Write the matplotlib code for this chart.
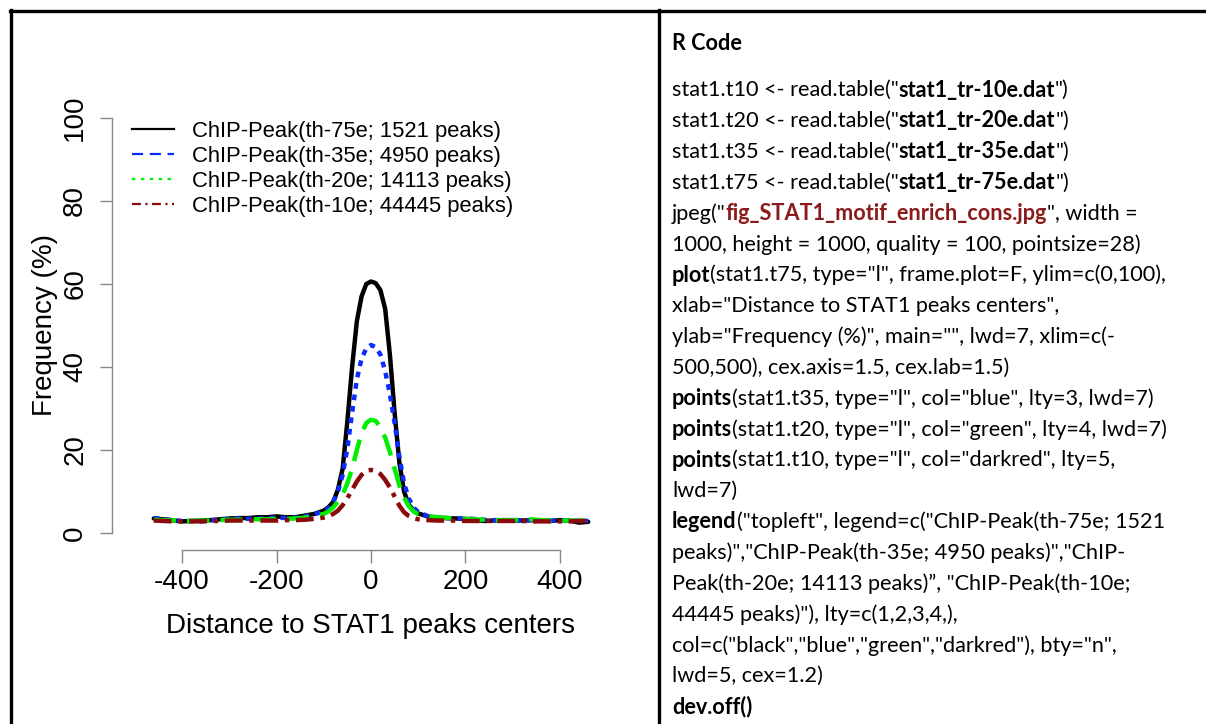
import numpy as np
import matplotlib
matplotlib.use('Agg')
import matplotlib.pyplot as plt
from matplotlib.lines import Line2D

plt.rcParams['font.family'] = ['Liberation Sans', 'DejaVu Sans']
plt.rcParams['axes.unicode_minus'] = False

# distance to peak centre (bp)
x_dist = [-460, -440, -420, -400, -380, -360, -340, -320, -300, -280, -260, -240, -220, -200, -180, -160, -140, -120,
          -100, -90, -80, -70, -60, -50, -40, -30, -20, -10, 0, 10, 20, 30, 40, 50, 60, 70, 80, 90, 100,
          120, 140, 160, 180, 200, 220, 240, 260, 280, 300, 320, 340, 360, 380, 400, 420, 440, 460]

# frequency (%) per threshold
freq_75e = [3.5, 3.3, 3.0, 2.8, 2.9, 3.0, 3.1, 3.3, 3.5, 3.6, 3.6, 3.8, 3.8, 4.0, 3.8, 3.8, 4.2, 4.6,
            5.4, 6.2, 7.5, 10.5, 15.5, 27, 40, 51, 57, 60, 60.6, 60.2, 58.5, 54, 43, 29, 17, 10, 6.8, 5.5, 4.7,
            4.0, 3.7, 3.6, 3.5, 3.4, 3.2, 2.9, 3.0, 3.1, 3.1, 3.0, 3.1, 3.0, 2.9, 3.1, 3.0, 2.5, 2.7]
freq_35e = [3.6, 3.4, 3.1, 2.9, 2.9, 2.8, 3.0, 3.2, 3.4, 3.5, 3.4, 3.5, 3.6, 3.7, 3.6, 3.7, 4.0, 4.5,
            5.2, 6.0, 7.5, 10, 14, 20.5, 29, 37, 42, 44.5, 45.3, 44.8, 43, 39, 33.5, 26.5, 18.5, 12, 8.3, 6.2, 5.0,
            4.1, 3.8, 3.6, 3.5, 3.5, 3.4, 3.2, 3.1, 3.1, 3.0, 3.0, 3.1, 3.0, 3.0, 3.0, 3.0, 2.9, 2.9]
freq_20e = [3.2, 3.1, 3.0, 2.9, 2.9, 3.0, 3.0, 3.1, 3.2, 3.2, 3.3, 3.3, 3.3, 3.4, 3.4, 3.5, 3.7, 4.1,
            4.6, 5.2, 6.2, 7.5, 9.3, 12, 15.5, 20, 24, 26.5, 27.3, 27, 25.5, 23, 19.5, 15.5, 11.5, 8.5, 6.5, 5.2, 4.5,
            4.0, 3.8, 3.6, 3.5, 3.4, 3.3, 3.2, 3.1, 3.1, 3.1, 3.2, 3.3, 3.1, 3.0, 3.0, 3.0, 3.0, 3.0]
freq_10e = [3.0, 2.9, 2.8, 2.8, 2.8, 2.8, 2.9, 2.9, 3.0, 3.0, 3.0, 3.0, 3.0, 3.0, 3.1, 3.1, 3.2, 3.4,
            3.7, 4.0, 4.6, 5.4, 6.7, 8.4, 10.4, 12.4, 14, 15, 15.2, 15, 14.2, 12.8, 11, 8.8, 6.6, 5.0, 4.1, 3.6, 3.3,
            3.1, 3.0, 3.0, 3.0, 2.9, 2.9, 2.9, 2.9, 2.9, 2.9, 2.9, 2.8, 2.8, 2.8, 2.8, 2.8, 2.9, 2.9]

legend_labels = ["ChIP-Peak(th-75e; 1521 peaks)", "ChIP-Peak(th-35e; 4950 peaks)",
                 "ChIP-Peak(th-20e; 14113 peaks)", "ChIP-Peak(th-10e; 44445 peaks)"]

W, H = 1206, 724
fig = plt.figure(figsize=(W / 100, H / 100), dpi=100)

def fx(px):
    return px / W

def fy(py):
    return 1 - py / H

# plot panel
ax = fig.add_axes([fx(116), fy(549.6), fx(626) - fx(116), fy(101.4) - fy(549.6)])
ax.plot(x_dist, freq_75e, color='black', lw=3.2, solid_capstyle='round')
ax.plot(x_dist, freq_35e, color='#0a2cff', lw=3.2, linestyle=(0, (1.3, 1.3)))
ax.plot(x_dist, freq_20e, color='#00ee00', lw=3.2, linestyle=(0, (5, 2.5)))
ax.plot(x_dist, freq_10e, color='#8b0a0a', lw=3.2, linestyle=(0, (4, 1.5, 1, 1.5)))

ax.set_xlim(-540, 540)
ax.set_ylim(-4, 104)
for s in ['top', 'right']:
    ax.spines[s].set_visible(False)
ax.spines['left'].set_bounds(0, 100)
ax.spines['bottom'].set_bounds(-400, 400)
ax.spines['left'].set_position(('outward', 3))
for s in ['left', 'bottom']:
    ax.spines[s].set_color('#888888')
    ax.spines[s].set_linewidth(1)
ax.set_xticks([-400, -200, 0, 200, 400])
ax.set_yticks([0, 20, 40, 60, 80, 100])
ax.tick_params(axis='both', length=9, width=1, color='#888888', labelsize=20)
ax.tick_params(axis='x', pad=5)
ax.tick_params(axis='y', pad=8)
for lab in ax.get_yticklabels():
    lab.set_rotation(90)
    lab.set_va('center')
ax.set_xlabel('Distance to STAT1 peaks centers', fontsize=20, labelpad=13)
ax.set_ylabel('Frequency (%)', fontsize=20, va='center')
ax.yaxis.set_label_coords((45 - 116) / 510, 0.5)

handles = [Line2D([], [], color='black', lw=1.6),
           Line2D([], [], color='#0a2cff', lw=1.6, linestyle=(0, (5, 3))),
           Line2D([], [], color='#00ee00', lw=1.6, linestyle=(0, (1.5, 2.5))),
           Line2D([], [], color='#8b0a0a', lw=1.6, linestyle=(0, (4, 2, 1, 2)))]
ax.legend(handles, legend_labels, loc='upper left', bbox_to_anchor=(fx(132), fy(121)),
          bbox_transform=fig.transFigure, frameon=False, fontsize=15.8,
          handlelength=1.93, handletextpad=0.8, labelspacing=0.18, borderpad=0, borderaxespad=0)

# table borders
lk = dict(color='black', lw=2.4, transform=fig.transFigure)
fig.add_artist(Line2D([fx(10), 1], [fy(11), fy(11)], **lk))
fig.add_artist(Line2D([fx(11), fx(11)], [fy(10), 0], **lk))
fig.add_artist(Line2D([fx(659), fx(659)], [fy(10), 0], **lk))

# R code panel
code_font = 'Lato'
code_fs = 15.6
dred = '#8b1a1a'
N, B = 'normal', 'bold'
code_lines = [
    [('stat1.t10 <- read.table("', N, 'black'), ('stat1_tr-10e.dat', B, 'black'), ('")', N, 'black')],
    [('stat1.t20 <- read.table("', N, 'black'), ('stat1_tr-20e.dat', B, 'black'), ('")', N, 'black')],
    [('stat1.t35 <- read.table("', N, 'black'), ('stat1_tr-35e.dat', B, 'black'), ('")', N, 'black')],
    [('stat1.t75 <- read.table("', N, 'black'), ('stat1_tr-75e.dat', B, 'black'), ('")', N, 'black')],
    [('jpeg("', N, 'black'), ('fig_STAT1_motif_enrich_cons.jpg', B, dred), ('", width =', N, 'black')],
    [('1000, height = 1000, quality = 100, pointsize=28)', N, 'black')],
    [('plot', B, 'black'), ('(stat1.t75, type="l", frame.plot=F, ylim=c(0,100),', N, 'black')],
    [('xlab="Distance to STAT1 peaks centers",', N, 'black')],
    [('ylab="Frequency (%)", main="", lwd=7, xlim=c(-', N, 'black')],
    [('500,500), cex.axis=1.5, cex.lab=1.5)', N, 'black')],
    [('points', B, 'black'), ('(stat1.t35, type="l", col="blue", lty=3, lwd=7)', N, 'black')],
    [('points', B, 'black'), ('(stat1.t20, type="l", col="green", lty=4, lwd=7)', N, 'black')],
    [('points', B, 'black'), ('(stat1.t10, type="l", col="darkred", lty=5,', N, 'black')],
    [('lwd=7)', N, 'black')],
    [('legend', B, 'black'), ('("topleft", legend=c("ChIP-Peak(th-75e; 1521', N, 'black')],
    [('peaks)","ChIP-Peak(th-35e; 4950 peaks)","ChIP-', N, 'black')],
    [('Peak(th-20e; 14113 peaks)\u201d, "ChIP-Peak(th-10e;', N, 'black')],
    [('44445 peaks)"), lty=c(1,2,3,4,),', N, 'black')],
    [('col=c("black","blue","green","darkred"), bty="n",', N, 'black')],
    [('lwd=5, cex=1.2)', N, 'black')],
    [('dev.off()', B, 'black')],
]

renderer = fig.canvas.get_renderer()
fig.text(fx(672), fy(43), 'R Code', fontsize=code_fs, fontweight='bold', family=code_font, va='center')
for i, segs in enumerate(code_lines):
    xp = 672
    yp = 90 + i * 30.85
    for txt, wt, col in segs:
        t = fig.text(fx(xp), fy(yp), txt, fontsize=code_fs, fontweight=wt, color=col,
                     family=code_font, va='center')
        xp += t.get_window_extent(renderer).width

fig.savefig('out.png', dpi=100)
